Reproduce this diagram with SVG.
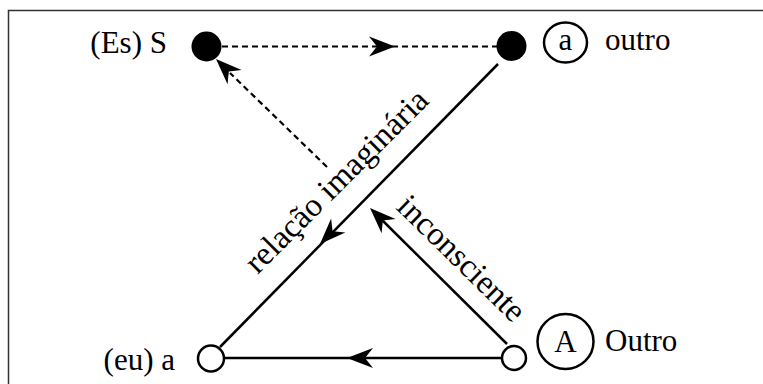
<svg xmlns="http://www.w3.org/2000/svg" width="763" height="384" viewBox="0 0 763 384">
<style>
.t{font-family:"Liberation Serif","DejaVu Serif",serif;font-size:31px;fill:#000}
.lbl{font-size:33px}
.ln{stroke:#000;stroke-width:2.5;fill:none}
.dash{stroke:#000;stroke-width:2.2;fill:none;stroke-dasharray:6 4}
.open{fill:#fff;stroke:#000;stroke-width:2.5}
.ring{fill:none;stroke:#000;stroke-width:2.5}
</style>
<defs>
<path id="ah" d="M0,0 L-26,-10 L-18,0 L-26,10 Z" fill="#000"/>
</defs>
<rect x="8.5" y="10.5" width="800" height="400" fill="#fff" stroke="#333" stroke-width="1.5"/>
<g id="connectors">
<line class="dash" x1="222" y1="46.5" x2="497" y2="46.5"/>
<use href="#ah" transform="translate(395,46.5)"/>
<line class="dash" x1="327" y1="167" x2="230" y2="73"/>
<use href="#ah" transform="translate(216,59) rotate(-135.5)"/>
<line class="ln" x1="498" y1="64" x2="220" y2="347"/>
<use href="#ah" transform="translate(320,244) rotate(134.5)"/>
<line class="ln" x1="507" y1="344" x2="378" y2="216"/>
<use href="#ah" transform="translate(370,208) rotate(-135.6)"/>
<line class="ln" x1="502" y1="358" x2="225" y2="358" stroke-width="3"/>
<use href="#ah" transform="translate(347,358) rotate(180)"/>
<text class="t lbl" x="0" y="0" text-anchor="middle" transform="translate(344,188.5) rotate(-45)">relação imaginária</text>
<text class="t lbl" x="0" y="0" text-anchor="middle" transform="translate(454,266) rotate(44.4)">inconsciente</text>
</g>
<g id="node-S">
<circle cx="206.5" cy="46.5" r="15" fill="#000"/>
<text class="t" x="167" y="53" text-anchor="end">(Es) S</text>
</g>
<g id="node-a-outro">
<circle cx="511.5" cy="46" r="15" fill="#000"/>
<ellipse class="ring" cx="565.5" cy="42.5" rx="21.5" ry="20"/>
<text class="t" x="565.5" y="50" text-anchor="middle">a</text>
<text class="t" x="605" y="50">outro</text>
</g>
<g id="node-eu">
<circle class="open" cx="211" cy="358.5" r="13"/>
<text class="t" x="175" y="370" text-anchor="end">(eu) a</text>
</g>
<g id="node-Outro">
<circle class="open" cx="514" cy="358" r="12"/>
<ellipse class="ring" cx="565.5" cy="341.5" rx="28" ry="27.5"/>
<text class="t" x="565.5" y="352" text-anchor="middle">A</text>
<text class="t" x="605" y="351">Outro</text>
</g>
</svg>
